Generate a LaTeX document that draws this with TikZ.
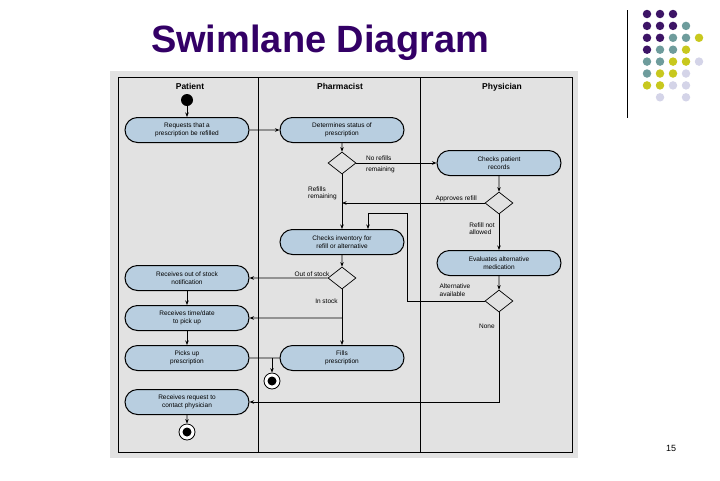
\documentclass[tikz,border=0pt]{standalone}
\usepackage{fontspec}
\setmainfont{Liberation Sans}
\usetikzlibrary{shapes.geometric,shapes.misc,arrows.meta}
\definecolor{titlepurple}{HTML}{330066}
\definecolor{dotpurple}{HTML}{3D1466}
\definecolor{dotteal}{HTML}{6E9C9C}
\definecolor{dotyellow}{HTML}{C8C81E}
\definecolor{dotlav}{HTML}{D4D4E8}
\definecolor{actblue}{HTML}{B8CEE0}
\definecolor{scangray}{HTML}{E2E2E2}

\begin{document}
\begin{tikzpicture}[x=1pt, y=-1pt,
  act/.style={rounded rectangle, draw, line width=1pt, fill=actblue, minimum width=126pt, minimum height=25pt, inner sep=1pt, align=center, font=\fontsize{6.5}{7.5}\selectfont},
  dec/.style={diamond, draw, line width=0.7pt, fill=scangray, minimum width=28pt, minimum height=22pt, inner sep=0pt},
  lbl/.style={font=\fontsize{6.5}{7.5}\selectfont, align=left, inner sep=1pt},
  lane/.style={font=\fontsize{8.5}{10}\selectfont\bfseries, text height=6.5pt, text depth=2pt},
  flow/.style={line width=0.7pt, -{Stealth[length=4.5pt,width=3.5pt]}},
  startdot/.style={circle, fill=black, minimum size=12pt, inner sep=0pt},
  enddot/.style={circle, draw, line width=0.8pt, fill=white, minimum size=16pt, inner sep=0pt,
    path picture={\fill[black] (path picture bounding box.center) circle (4.5pt);}},
  dot/.style={circle, minimum size=8.5pt, inner sep=0pt}
]
  \useasboundingbox (0,0) rectangle (720,480);

  % Slide title and decoration
  \node[font=\fontsize{38}{40}\selectfont\bfseries, text=titlepurple] (title) at (320,43) {Swimlane Diagram};
  \draw[line width=1pt] (627,10) -- (627,118);
  \foreach \c/\r/\col in {0/0/dotpurple, 1/0/dotpurple, 2/0/dotpurple,
      0/1/dotpurple, 1/1/dotpurple, 2/1/dotpurple, 3/1/dotteal,
      0/2/dotpurple, 1/2/dotpurple, 2/2/dotteal, 3/2/dotteal, 4/2/dotyellow,
      0/3/dotpurple, 1/3/dotteal, 2/3/dotteal, 3/3/dotyellow,
      0/4/dotteal, 1/4/dotteal, 2/4/dotyellow, 3/4/dotyellow, 4/4/dotlav,
      0/5/dotteal, 1/5/dotyellow, 2/5/dotyellow, 3/5/dotlav,
      0/6/dotyellow, 1/6/dotyellow, 2/6/dotlav, 3/6/dotlav,
      1/7/dotlav, 3/7/dotlav}
    \node[dot, fill=\col] (dot-\c-\r) at (647+13*\c, 14+11.9*\r) {};
  \node[font=\fontsize{9}{10}\selectfont] (pagenum) at (671,448) {15};

  % Scanned figure and lanes
  \fill[scangray] (110,71) rectangle (578,458);
  \draw[line width=0.9pt] (118,77) rectangle (572,452);
  \draw[line width=0.9pt] (258,77) -- (258,452);
  \draw[line width=0.9pt] (420,77) -- (420,452);
  \node[lane] (patient) at (190,87) {Patient};
  \node[lane] (pharmacist) at (340,87) {Pharmacist};
  \node[lane] (physician) at (502,87) {Physician};

  % Patient
  \node[startdot] (start) at (187,100) {};
  \node[act] (request) at (187,130) {Requests that a\\prescription be refilled};
  \node[act] (outstock) at (187,278) {Receives out of stock\\notification};
  \node[act] (timedate) at (187,318) {Receives time/date\\to pick up};
  \node[act] (pickup) at (187,358) {Picks up\\prescription};
  \node[act] (contact) at (187,402) {Receives request to\\contact physician};
  \node[enddot] (end2) at (187,432) {};

  % Pharmacist
  \node[act] (status) at (342,130) {Determines status of\\prescription};
  \node[dec] (d1) at (342,163) {};
  \node[act] (inventory) at (342,242) {Checks inventory for\\refill or alternative};
  \node[dec] (d4) at (342,278) {};
  \node[act] (fill) at (342,358) {Fills\\prescription};
  \node[enddot] (end1) at (272,381) {};

  % Physician
  \node[act] (records) at (499,163) {Checks patient\\records};
  \node[dec] (d2) at (499,203) {};
  \node[act] (evaluate) at (499,263) {Evaluates alternative\\medication};
  \node[dec] (d3) at (499,301) {};

  \coordinate (alt) at (407,213);
  \coordinate (instock) at (d4 |- timedate);
  \coordinate (join) at (272,358);

  % Flows
  \draw[flow] (start) -- (request);
  \draw[flow] (request) -- (status);
  \draw[flow] (status) -- (d1);
  \draw[flow] (d1) -- (records) node[lbl, pos=0.3, yshift=-1.5pt] {No refills\\[3pt]remaining};
  \draw[flow] (d1) -- (inventory) node[lbl, pos=0.35, left=4pt] {Refills\\remaining};
  \draw[flow] (records) -- (d2);
  \draw[flow] (d2) -- (d1 |- d2) node[lbl, pos=0.2, above] {Approves refill};
  \draw[flow] (d2) -- (evaluate) node[lbl, pos=0.4, left=3pt] {Refill not\\allowed};
  \draw[flow] (evaluate) -- (d3);
  \draw[flow] (d3) -| (alt) -| ([xshift=26pt]inventory.north);
  \node[lbl] (altlbl) at (455,290) {Alternative\\available};
  \draw[flow] (inventory) -- (d4);
  \draw[flow] (d4) -- (outstock) node[lbl, pos=0.2, above] {Out of stock};
  \draw[flow] (d4) -- (fill) node[lbl, pos=0.22, left=3pt] {In stock};
  \draw[flow] (instock) -- (timedate);
  \draw[flow] (outstock) -- (timedate);
  \draw[flow] (timedate) -- (pickup);
  \draw[line width=0.7pt] (pickup) -- (fill);
  \draw[flow] (join) -- (end1);
  \draw[flow] (d3) |- (contact) node[lbl, pos=0.08, left=3pt] {None};
  \draw[flow] (contact) -- (end2);
\end{tikzpicture}
\end{document}
